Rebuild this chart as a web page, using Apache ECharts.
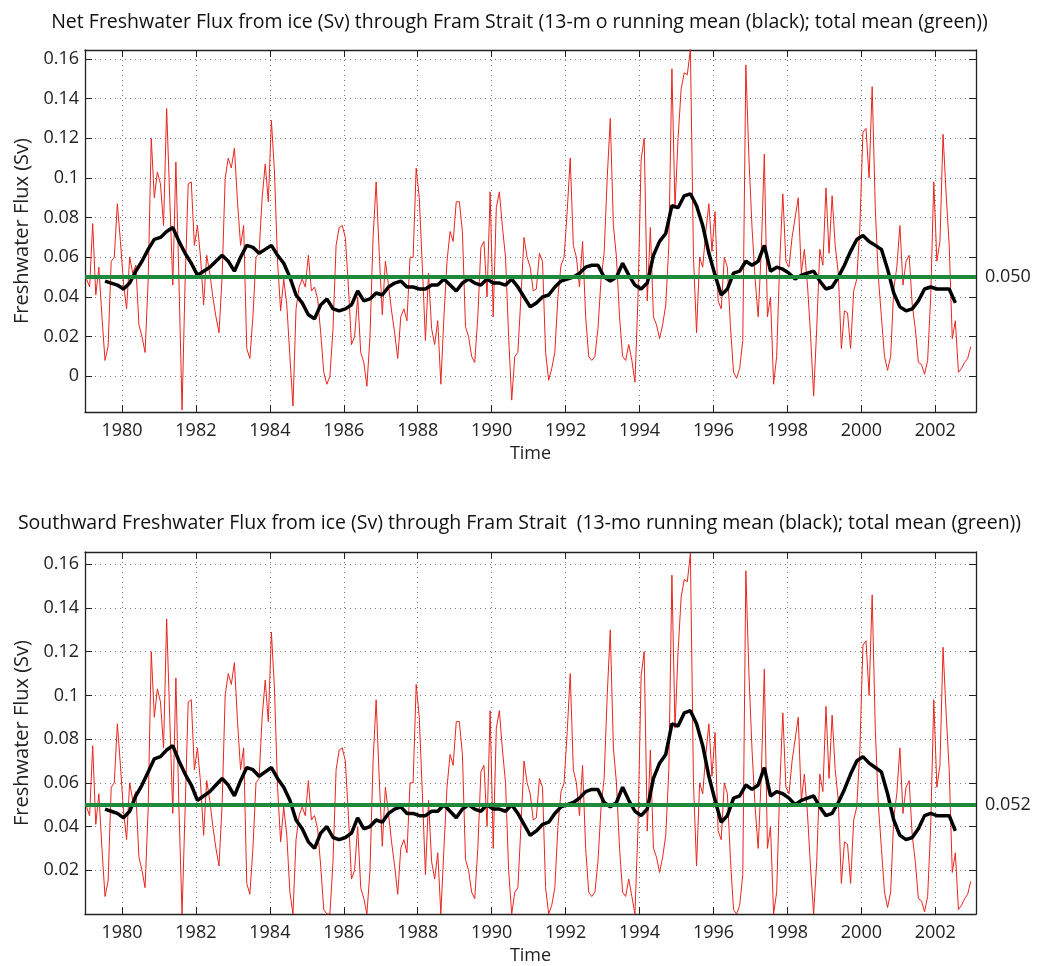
<!DOCTYPE html>
<html>
<head>
<meta charset="utf-8">
<title>Fram Strait freshwater flux from ice</title>
<script src="https://cdn.jsdelivr.net/npm/echarts@6.0.0/dist/echarts.min.js"></script>
<style>
  html, body { margin: 0; padding: 0; background: #fff; }
  #chart { width: 1039px; height: 966px; }
</style>
</head>
<body>
<div id="chart"></div>
<script>
// monthly values, Jan 1979 .. Dec 2002 (one row per year)
var netFlux = [
  0.049, 0.045, 0.077, 0.041, 0.055, 0.030, 0.008, 0.015, 0.058, 0.060, 0.087, 0.068,
  0.047, 0.034, 0.060, 0.052, 0.056, 0.026, 0.020, 0.012, 0.048, 0.120, 0.090, 0.103,
  0.097, 0.076, 0.135, 0.090, 0.046, 0.108, 0.048, -0.017, 0.048, 0.097, 0.098, 0.066,
  0.076, 0.060, 0.036, 0.061, 0.052, 0.040, 0.030, 0.022, 0.050, 0.100, 0.110, 0.105,
  0.115, 0.088, 0.066, 0.076, 0.014, 0.009, 0.030, 0.060, 0.062, 0.090, 0.107, 0.088,
  0.129, 0.103, 0.058, 0.033, 0.049, 0.036, 0.010, -0.015, 0.034, 0.045, 0.049, 0.045,
  0.061, 0.043, 0.045, 0.039, 0.022, 0.002, -0.004, 0.000, 0.024, 0.066, 0.075, 0.076,
  0.070, 0.045, 0.016, 0.020, 0.040, 0.012, 0.007, -0.005, 0.020, 0.070, 0.098, 0.062,
  0.031, 0.058, 0.046, 0.033, 0.022, 0.009, 0.030, 0.034, 0.028, 0.060, 0.060, 0.105,
  0.090, 0.055, 0.018, 0.052, 0.024, 0.016, 0.028, -0.004, 0.030, 0.058, 0.073, 0.068,
  0.088, 0.088, 0.073, 0.025, 0.020, 0.010, 0.007, 0.030, 0.065, 0.068, 0.040, 0.093,
  0.030, 0.085, 0.093, 0.075, 0.060, 0.020, -0.012, 0.010, 0.012, 0.040, 0.070, 0.060,
  0.055, 0.043, 0.044, 0.062, 0.058, 0.012, -0.002, 0.004, 0.012, 0.040, 0.056, 0.060,
  0.083, 0.110, 0.066, 0.060, 0.045, 0.068, 0.030, 0.010, 0.008, 0.010, 0.024, 0.049,
  0.062, 0.100, 0.130, 0.076, 0.060, 0.030, 0.010, 0.008, 0.016, 0.008, -0.003, 0.040,
  0.109, 0.120, 0.038, 0.075, 0.030, 0.026, 0.019, 0.026, 0.036, 0.066, 0.155, 0.085,
  0.120, 0.145, 0.153, 0.152, 0.165, 0.060, 0.022, 0.060, 0.055, 0.073, 0.087, 0.063,
  0.083, 0.038, 0.034, 0.060, 0.055, 0.025, 0.002, -0.001, 0.004, 0.018, 0.157, 0.110,
  0.075, 0.049, 0.030, 0.063, 0.112, 0.030, 0.040, -0.004, 0.010, 0.058, 0.092, 0.058,
  0.055, 0.070, 0.080, 0.090, 0.052, 0.064, 0.046, 0.021, -0.010, 0.024, 0.064, 0.056,
  0.095, 0.062, 0.091, 0.066, 0.052, 0.014, 0.033, 0.032, 0.014, 0.043, 0.049, 0.075,
  0.123, 0.125, 0.100, 0.146, 0.085, 0.050, 0.030, 0.010, 0.003, 0.010, 0.044, 0.055,
  0.076, 0.046, 0.058, 0.061, 0.036, 0.024, 0.007, 0.006, 0.001, 0.008, 0.040, 0.098,
  0.058, 0.068, 0.122, 0.092, 0.066, 0.019, 0.028, 0.002, 0.004, 0.007, 0.009, 0.015
];
var southFlux = [
  0.049, 0.045, 0.077, 0.041, 0.055, 0.030, 0.008, 0.015, 0.058, 0.060, 0.087, 0.068,
  0.047, 0.034, 0.060, 0.052, 0.056, 0.026, 0.020, 0.012, 0.048, 0.120, 0.090, 0.103,
  0.097, 0.076, 0.135, 0.090, 0.046, 0.108, 0.048, 0.000, 0.048, 0.097, 0.098, 0.066,
  0.076, 0.060, 0.036, 0.061, 0.052, 0.040, 0.030, 0.022, 0.050, 0.100, 0.110, 0.105,
  0.115, 0.088, 0.066, 0.076, 0.014, 0.009, 0.030, 0.060, 0.062, 0.090, 0.107, 0.088,
  0.129, 0.103, 0.058, 0.033, 0.049, 0.036, 0.010, 0.000, 0.034, 0.045, 0.049, 0.045,
  0.061, 0.043, 0.045, 0.039, 0.022, 0.002, 0.000, 0.000, 0.024, 0.066, 0.075, 0.076,
  0.070, 0.045, 0.016, 0.020, 0.040, 0.012, 0.007, 0.000, 0.020, 0.070, 0.098, 0.062,
  0.031, 0.058, 0.046, 0.033, 0.022, 0.009, 0.030, 0.034, 0.028, 0.060, 0.060, 0.105,
  0.090, 0.055, 0.018, 0.052, 0.024, 0.016, 0.028, 0.000, 0.030, 0.058, 0.073, 0.068,
  0.088, 0.088, 0.073, 0.025, 0.020, 0.010, 0.007, 0.030, 0.065, 0.068, 0.040, 0.093,
  0.030, 0.085, 0.093, 0.075, 0.060, 0.020, 0.000, 0.010, 0.012, 0.040, 0.070, 0.060,
  0.055, 0.043, 0.044, 0.062, 0.058, 0.012, 0.000, 0.004, 0.012, 0.040, 0.056, 0.060,
  0.083, 0.110, 0.066, 0.060, 0.045, 0.068, 0.030, 0.010, 0.008, 0.010, 0.024, 0.049,
  0.062, 0.100, 0.130, 0.076, 0.060, 0.030, 0.010, 0.008, 0.016, 0.008, 0.000, 0.040,
  0.109, 0.120, 0.038, 0.075, 0.030, 0.026, 0.019, 0.026, 0.036, 0.066, 0.155, 0.085,
  0.120, 0.145, 0.153, 0.152, 0.165, 0.060, 0.022, 0.060, 0.055, 0.073, 0.087, 0.063,
  0.083, 0.038, 0.034, 0.060, 0.055, 0.025, 0.002, 0.000, 0.004, 0.018, 0.157, 0.110,
  0.075, 0.049, 0.030, 0.063, 0.112, 0.030, 0.040, 0.000, 0.010, 0.058, 0.092, 0.058,
  0.055, 0.070, 0.080, 0.090, 0.052, 0.064, 0.046, 0.021, 0.000, 0.024, 0.064, 0.056,
  0.095, 0.062, 0.091, 0.066, 0.052, 0.014, 0.033, 0.032, 0.014, 0.043, 0.049, 0.075,
  0.123, 0.125, 0.100, 0.146, 0.085, 0.050, 0.030, 0.010, 0.003, 0.010, 0.044, 0.055,
  0.076, 0.046, 0.058, 0.061, 0.036, 0.024, 0.007, 0.006, 0.001, 0.008, 0.040, 0.098,
  0.058, 0.068, 0.122, 0.092, 0.066, 0.019, 0.028, 0.002, 0.004, 0.007, 0.009, 0.015
];

// 13-month running mean, read every 2nd month from Jul 1979 to Jul 2002
var netRun = [
  0.048, 0.047, 0.046, 0.044, 0.047, 0.053, 0.058, 0.064, 0.069, 0.070, 0.073, 0.075,
  0.068, 0.062, 0.057, 0.051, 0.053, 0.055, 0.058, 0.061, 0.058, 0.053, 0.060, 0.066,
  0.065, 0.062, 0.064, 0.066, 0.061, 0.057, 0.050, 0.041, 0.037, 0.031, 0.029, 0.036,
  0.039, 0.034, 0.033, 0.034, 0.036, 0.043, 0.038, 0.039, 0.042, 0.041, 0.045, 0.047,
  0.048, 0.045, 0.045, 0.044, 0.044, 0.046, 0.046, 0.049, 0.046, 0.043, 0.047, 0.049,
  0.047, 0.046, 0.049, 0.047, 0.047, 0.046, 0.049, 0.045, 0.040, 0.035, 0.037, 0.040,
  0.041, 0.045, 0.048, 0.049, 0.050, 0.052, 0.055, 0.056, 0.056, 0.050, 0.048, 0.050,
  0.057, 0.051, 0.046, 0.044, 0.047, 0.061, 0.068, 0.072, 0.086, 0.085, 0.091, 0.092,
  0.086, 0.076, 0.062, 0.051, 0.041, 0.044, 0.052, 0.053, 0.058, 0.056, 0.058, 0.066,
  0.053, 0.055, 0.054, 0.052, 0.049, 0.051, 0.052, 0.053, 0.048, 0.044, 0.045, 0.050,
  0.056, 0.063, 0.069, 0.071, 0.068, 0.066, 0.064, 0.054, 0.042, 0.035, 0.033, 0.034,
  0.038, 0.044, 0.045, 0.044, 0.044, 0.044, 0.037
];
var southRun = [
  0.048, 0.047, 0.046, 0.044, 0.047, 0.054, 0.059, 0.065, 0.071, 0.072, 0.075, 0.077,
  0.070, 0.064, 0.059, 0.052, 0.054, 0.056, 0.059, 0.062, 0.059, 0.054, 0.061, 0.067,
  0.066, 0.063, 0.065, 0.067, 0.062, 0.058, 0.052, 0.043, 0.039, 0.033, 0.030, 0.037,
  0.040, 0.035, 0.034, 0.035, 0.037, 0.044, 0.039, 0.040, 0.043, 0.042, 0.046, 0.048,
  0.049, 0.046, 0.046, 0.045, 0.045, 0.047, 0.047, 0.050, 0.047, 0.044, 0.048, 0.050,
  0.048, 0.047, 0.050, 0.048, 0.048, 0.047, 0.050, 0.046, 0.041, 0.036, 0.038, 0.041,
  0.042, 0.046, 0.049, 0.050, 0.051, 0.053, 0.056, 0.057, 0.057, 0.051, 0.049, 0.051,
  0.058, 0.052, 0.047, 0.045, 0.048, 0.062, 0.069, 0.073, 0.087, 0.086, 0.092, 0.093,
  0.087, 0.077, 0.063, 0.052, 0.042, 0.045, 0.053, 0.054, 0.059, 0.057, 0.059, 0.067,
  0.054, 0.056, 0.055, 0.053, 0.050, 0.052, 0.053, 0.054, 0.049, 0.045, 0.046, 0.051,
  0.057, 0.064, 0.070, 0.072, 0.069, 0.067, 0.065, 0.055, 0.043, 0.036, 0.034, 0.035,
  0.039, 0.045, 0.046, 0.045, 0.045, 0.045, 0.038
];

var netMean = 0.0508;
var southMean = 0.0516;
var meanLabels = ['0.050', '0.052'];

var yearTicks = [1980, 1982, 1984, 1986, 1988, 1990, 1992, 1994, 1996, 1998, 2000, 2002];
var netTicks = [0, 0.02, 0.04, 0.06, 0.08, 0.1, 0.12, 0.14, 0.16];
var southTicks = [0.02, 0.04, 0.06, 0.08, 0.1, 0.12, 0.14, 0.16];

var titles = [
  'Net Freshwater Flux from ice (Sv) through Fram Strait (13-m o running mean (black); total mean (green))',
  'Southward Freshwater Flux from ice (Sv) through Fram Strait  (13-mo running mean (black); total mean (green))'
];

var FONT = '"Open Sans", "Noto Sans", sans-serif';
var startYear = 1979;

function monthly(vals) {
  return vals.map(function (v, i) { return [startYear + (i + 0.5) / 12, v]; });
}
function every2nd(vals, firstMonth) {
  return vals.map(function (v, i) { return [startYear + (firstMonth + 2 * i + 0.5) / 12, v]; });
}

var frame = { show: true, onZero: false, lineStyle: { color: '#222', width: 1.3 } };
var tickStyle = { color: '#222', width: 1 };
var gridLine = { show: true, lineStyle: { color: '#777', width: 1, type: [1, 4] } };

function xAxes(gi, pos) {
  var bottom = pos === 'bottom';
  return {
    type: 'value', gridIndex: gi, position: pos,
    min: 1979.0, max: 2003.1,
    axisLine: frame,
    axisTick: { show: true, inside: true, length: 7, customValues: yearTicks, lineStyle: tickStyle },
    axisLabel: {
      show: bottom, customValues: yearTicks, margin: 10,
      fontFamily: FONT, fontSize: 18, color: '#222',
      formatter: function (v) { return String(v); }
    },
    splitLine: bottom ? gridLine : { show: false },
    name: bottom ? 'Time' : '', nameLocation: 'middle', nameGap: 33,
    nameTextStyle: { fontFamily: FONT, fontSize: 18, color: '#222' }
  };
}
function yAxes(gi, pos, min, max, ticks) {
  var left = pos === 'left';
  return {
    type: 'value', gridIndex: gi, position: pos,
    min: min, max: max,
    axisLine: frame,
    axisTick: { show: true, inside: true, length: 7, customValues: ticks, lineStyle: tickStyle },
    axisLabel: {
      show: left, customValues: ticks, margin: 6,
      fontFamily: FONT, fontSize: 18, color: '#222'
    },
    splitLine: left ? gridLine : { show: false },
    name: left ? 'Freshwater Flux (Sv)' : '', nameLocation: 'middle', nameGap: 52,
    nameTextStyle: { fontFamily: FONT, fontSize: 20, color: '#222' }
  };
}

function panelSeries(gi, flux, run, mean, label) {
  return [
    {
      type: 'line', xAxisIndex: gi * 2, yAxisIndex: gi * 2,
      data: monthly(flux), showSymbol: false, symbol: 'none',
      lineStyle: { color: '#e8261e', width: 1 }, z: 2,
      markLine: {
        silent: true, symbol: 'none', animation: false,
        data: [{ yAxis: mean }],
        lineStyle: { color: '#1f8a3c', width: 4, type: 'solid' },
        label: {
          show: true, position: 'end', distance: 9, formatter: label,
          fontFamily: FONT, fontSize: 18, color: '#222'
        }
      }
    },
    {
      type: 'line', xAxisIndex: gi * 2, yAxisIndex: gi * 2,
      data: every2nd(run, 6), showSymbol: false, symbol: 'none',
      lineStyle: { color: '#000', width: 3.5 }, z: 4
    }
  ];
}

var chart = echarts.init(document.getElementById('chart'), null, { renderer: 'canvas' });
chart.setOption({
  animation: false,
  backgroundColor: '#fff',
  title: [
    { text: titles[0], left: 'center', top: 7,
      textStyle: { fontFamily: FONT, fontSize: 19.5, fontWeight: 'normal', color: '#111' } },
    { text: titles[1], left: 'center', top: 508,
      textStyle: { fontFamily: FONT, fontSize: 19.5, fontWeight: 'normal', color: '#111' } }
  ],
  grid: [
    { left: 85, top: 50, width: 891, height: 362 },
    { left: 85, top: 552, width: 891, height: 362 }
  ],
  xAxis: [xAxes(0, 'bottom'), xAxes(0, 'top'), xAxes(1, 'bottom'), xAxes(1, 'top')],
  yAxis: [
    yAxes(0, 'left', -0.018, 0.1645, netTicks), yAxes(0, 'right', -0.018, 0.1645, netTicks),
    yAxes(1, 'left', 0, 0.1656, southTicks), yAxes(1, 'right', 0, 0.1656, southTicks)
  ],
  series: panelSeries(0, netFlux, netRun, netMean, meanLabels[0])
    .concat(panelSeries(1, southFlux, southRun, southMean, meanLabels[1]))
});
</script>
</body>
</html>
